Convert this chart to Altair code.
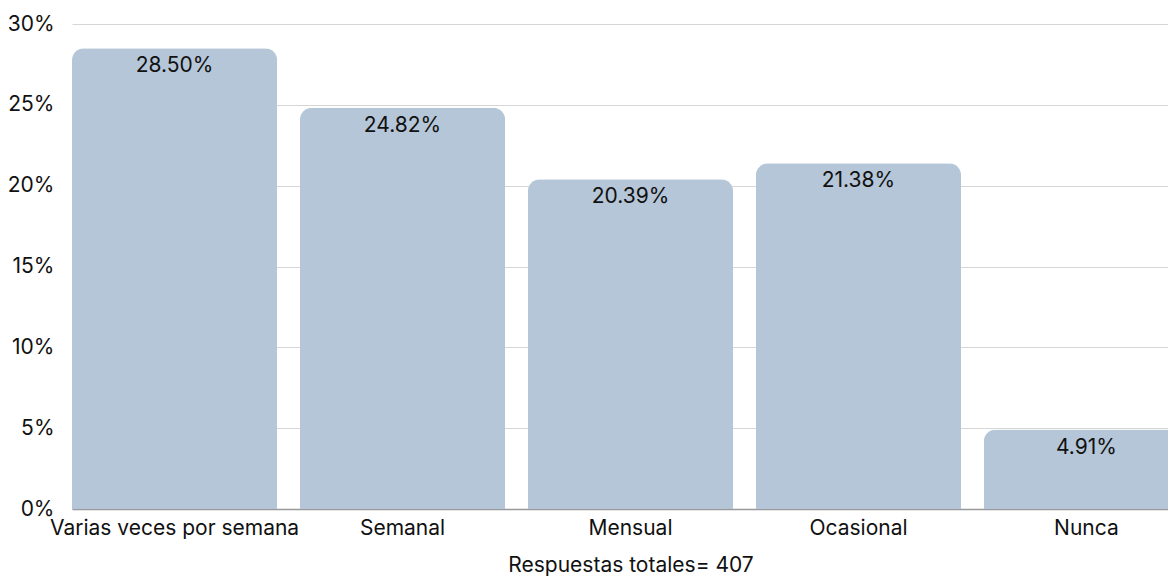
import altair as alt
import pandas as pd

categories = ["Varias veces por semana", "Semanal", "Mensual", "Ocasional", "Nunca"]
values = [28.50, 24.82, 20.39, 21.38, 4.91]
y_ticks = [0, 5, 10, 15, 20, 25, 30]

df = pd.DataFrame({"cat": categories, "val": values,
                   "label": [f"{v:.2f}%" for v in values]})

FONT = "Inter"
FS = 21

x = alt.X("cat:N", sort=categories, title="Respuestas totales= 407",
          scale=alt.Scale(paddingInner=0.1, paddingOuter=0, range=[0, 1117]),
          axis=alt.Axis(labelAngle=0, labelFontSize=FS, labelColor="#111111",
                        labelFont=FONT, labelPadding=8, ticks=False, labelLimit=0,
                        domainColor="#999999", domainWidth=1.5,
                        titleFont=FONT, titleFontSize=FS, titleFontWeight="normal",
                        titleColor="#111111", titlePadding=16))
y = alt.Y("val:Q", title=None,
          scale=alt.Scale(domain=[0, 30], nice=False),
          axis=alt.Axis(values=y_ticks, labelExpr="datum.value + '%'",
                        labelFontSize=FS, labelColor="#111111", labelFont=FONT,
                        labelPadding=18, ticks=False, domain=False,
                        gridColor="#d6d6d6", gridWidth=1))

bars = alt.Chart(df).mark_bar(color="#b5c6d8", cornerRadiusTopLeft=12,
                              cornerRadiusTopRight=12).encode(x=x, y=y)
text = alt.Chart(df).mark_text(baseline="top", dy=7, fontSize=FS, font=FONT,
                               color="#111111").encode(
    x=alt.X("cat:N", sort=categories), y="val:Q", text="label:N")

chart = (bars + text).properties(
    width=1096, height=485,
    autosize=alt.AutoSizeParams(type="none"),
    padding={"left": 64, "top": 16, "right": 0, "bottom": 69},
).configure_view(stroke=None)

chart.save("out.html", embed_options={"renderer": "svg", "actions": False})
